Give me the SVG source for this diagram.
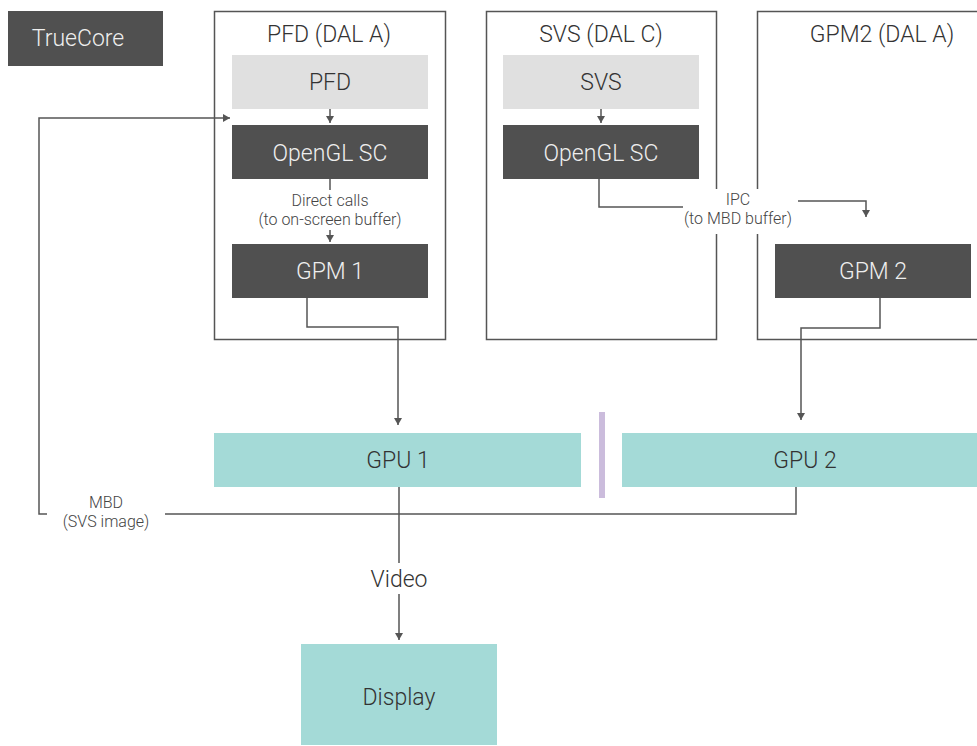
<svg xmlns="http://www.w3.org/2000/svg" width="977" height="746" viewBox="0 0 977 746">
<defs>
<marker id="ah" markerWidth="10" markerHeight="10" refX="8" refY="5" orient="auto" markerUnits="userSpaceOnUse">
<path d="M1,1 L8,5 L1,9 Z" fill="#555"/>
</marker>
<style>
text{font-family:Roboto,"Liberation Sans",sans-serif;font-weight:300;text-anchor:middle;dominant-baseline:central}
.cont{fill:#fff;stroke:#555;stroke-width:1.5}
.light{fill:#e0e0e0}
.dark{fill:#505050}
.teal{fill:#a4dad7}
.t20{font-size:23px;fill:#333}
.tw{font-size:23px;fill:#eee}
.t14{font-size:16px;fill:#444}
.ln{fill:none;stroke:#555;stroke-width:1.5}
</style>
</defs>
<rect width="977" height="746" fill="#fff"/>
<g id="truecore"><rect class="dark" x="8" y="11" width="155" height="55"/><text class="tw" x="78" y="38">TrueCore</text></g>
<g id="pfd-dal"><rect class="cont" x="214.5" y="11.5" width="231" height="328"/><text class="t20" x="329" y="34">PFD (DAL A)</text></g>
<g id="svs-dal"><rect class="cont" x="486.5" y="11.5" width="230" height="328"/><text class="t20" x="601" y="34">SVS (DAL C)</text></g>
<g id="gpm2-dal"><rect class="cont" x="757.5" y="11.5" width="230" height="328"/><text class="t20" x="882" y="34">GPM2 (DAL A)</text></g>
<g id="pfd"><rect class="light" x="232" y="55" width="196" height="54"/><text class="t20" x="330" y="82">PFD</text></g>
<g id="opengl1"><rect class="dark" x="232" y="125" width="196" height="54"/><text class="tw" x="330" y="153">OpenGL SC</text></g>
<g id="gpm1"><rect class="dark" x="232" y="244" width="196" height="54"/><text class="tw" x="330" y="271">GPM 1</text></g>
<g id="svs"><rect class="light" x="503" y="55" width="196" height="54"/><text class="t20" x="601" y="82">SVS</text></g>
<g id="opengl2"><rect class="dark" x="503" y="125" width="196" height="54"/><text class="tw" x="601" y="153">OpenGL SC</text></g>
<g id="gpm2"><rect class="dark" x="775" y="244" width="196" height="54"/><text class="tw" x="873" y="271">GPM 2</text></g>
<g id="gpu1"><rect class="teal" x="214" y="433" width="367" height="54"/><text class="t20" x="398" y="460">GPU 1</text></g>
<g id="separator"><rect x="599" y="412" width="6" height="86" fill="#cbbcdc"/></g>
<g id="gpu2"><rect class="teal" x="622" y="433" width="355" height="54"/><text class="t20" x="805" y="460">GPU 2</text></g>
<g id="display"><rect class="teal" x="301" y="644" width="196" height="101"/><text class="t20" x="399" y="697">Display</text></g>
<g id="connectors">
<path class="ln" d="M330,179 V190"/>
<path class="ln" d="M330,230 V242" marker-end="url(#ah)"/>
<path class="ln" d="M330,109 V123" marker-end="url(#ah)"/>
<path class="ln" d="M601,109 V123" marker-end="url(#ah)"/>
<text class="t14" x="330" y="200.5">Direct calls</text>
<text class="t14" x="330" y="219.5">(to on-screen buffer)</text>
<path class="ln" d="M599,179 V207 H683"/>
<rect x="683" y="189" width="115" height="45" fill="#fff"/>
<path class="ln" d="M798,201 H866 V217" marker-end="url(#ah)"/>
<text class="t14" x="738" y="199.5">IPC</text>
<text class="t14" x="738" y="218.5">(to MBD buffer)</text>
<path class="ln" d="M307,298 V327 H398 V425" marker-end="url(#ah)"/>
<path class="ln" d="M880,298 V328 H801 V420" marker-end="url(#ah)"/>
<path class="ln" d="M796,487 V514 H165"/>
<path class="ln" d="M47,514 H39 V118 H230" marker-end="url(#ah)"/>
<text class="t14" x="106" y="502">MBD</text>
<text class="t14" x="106" y="521">(SVS image)</text>
<path class="ln" d="M399,487 V563"/>
<path class="ln" d="M399,594 V640" marker-end="url(#ah)"/>
<text class="t20" x="399" y="579">Video</text>
</g>
</svg>
